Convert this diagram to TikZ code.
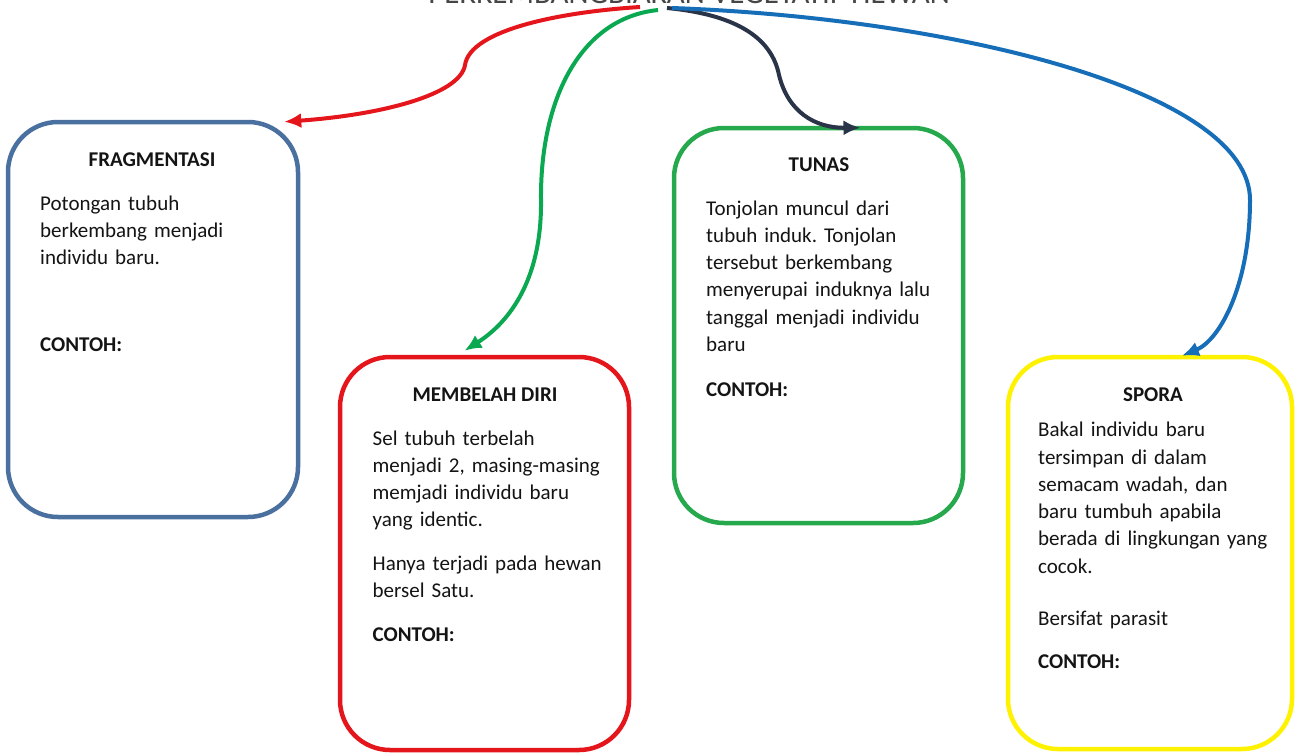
\documentclass[tikz,border=0pt]{standalone}
\usepackage{fontspec}
\setmainfont{Carlito}
\usetikzlibrary{arrows.meta,calc}
\frenchspacing
\definecolor{cfrag}{RGB}{74,112,160}
\definecolor{cred}{RGB}{228,22,28}
\definecolor{cgreenbox}{RGB}{38,168,76}
\definecolor{cgreen}{RGB}{10,168,80}
\definecolor{cnavy}{RGB}{42,52,72}
\definecolor{cblue}{RGB}{22,110,185}
\definecolor{cyellow}{RGB}{255,242,0}
\definecolor{ctext}{RGB}{20,20,20}
\definecolor{ctitle}{RGB}{70,70,70}
\tikzset{
  card/.style={draw, line width=4.5pt, rounded corners=50pt, fill=white, inner sep=0pt},
  cardtitle/.style={anchor=base, inner sep=0pt, text=ctext, font=\fontsize{21}{27.3}\selectfont\bfseries},
  body/.style={anchor=base west, inner sep=0pt, text=ctext, align=left, text width=250pt, font=\fontsize{21}{27.3}\selectfont},
  contoh/.style={anchor=base west, inner sep=0pt, text=ctext, font=\fontsize{21}{27.3}\selectfont\bfseries},
  conn/.style={line width=4pt, -{Latex[length=17pt,width=15pt]}},
}
\begin{document}
\begin{tikzpicture}[x=1pt,y=-1pt]
\useasboundingbox[fill=white] (0,0) rectangle (1296,753);

% title (cut off at the top edge, as in the reference)
\node[anchor=base, inner sep=0pt, text=ctitle, font=\fontsize{31}{36}\selectfont] (title) at (689,3.5) {PERKEMBANGBIAKAN VEGETATIF HEWAN};

% cards
\node[card, draw=cfrag, minimum width=290pt, minimum height=395pt] (frag) at (153,319.5) {};
\node[card, draw=cred, minimum width=289pt, minimum height=393pt] (memb) at (484.5,553.5) {};
\node[card, draw=cgreenbox, minimum width=289pt, minimum height=395pt] (tunas) at (818.5,325.5) {};
\node[card, draw=cyellow, minimum width=284pt, minimum height=392pt] (spora) at (1150,553) {};

% Fragmentasi
\node[cardtitle] (fragT) at (152,166.5) {FRAGMENTASI};
\node[body] (fragB) at (40,210) {Potongan tubuh\\berkembang menjadi\\individu baru.};
\node[contoh] (fragC) at (40,351.5) {CONTOH:};

% Membelah diri
\node[cardtitle] (membT) at (485,401.5) {MEMBELAH DIRI};
\node[body] (membB) at (372.5,445) {Sel tubuh terbelah\\menjadi 2, masing-masing\\memjadi individu baru\\yang identic.};
\node[body] (membB2) at (372.5,570) {Hanya terjadi pada hewan\\bersel Satu.};
\node[contoh] (membC) at (372.5,641.5) {CONTOH:};

% Tunas
\node[cardtitle] (tunasT) at (819,171.5) {TUNAS};
\node[body] (tunasB) at (706,215) {Tonjolan muncul dari\\tubuh induk. Tonjolan\\tersebut berkembang\\menyerupai induknya lalu\\tanggal menjadi individu\\baru};
\node[contoh] (tunasC) at (706,396) {CONTOH:};

% Spora
\node[cardtitle] (sporaT) at (1153,401.5) {SPORA};
\node[body] (sporaB) at (1038,436.7) {Bakal individu baru\\tersimpan di dalam\\semacam wadah, dan\\baru tumbuh apabila\\berada di lingkungan yang\\cocok.};
\node[body] (sporaB2) at (1038,625) {Bersifat parasit};
\node[contoh] (sporaC) at (1038,668) {CONTOH:};

% connector end points
\coordinate (rs) at ($(title.base)+(-49,3.5)$);
\coordinate (gs) at ($(title.base)+(-31,6.5)$);
\coordinate (ns) at ($(title.base)+(-22,4.5)$);
\coordinate (bs) at ($(title.base)+(-17,4.5)$);
\coordinate (re) at ($(frag.north east)+(-16,2)$);
\coordinate (ge) at ($(memb.north)+(-20,-4)$);
\coordinate (ne) at ($(tunas.north)+(42,2)$);
\coordinate (be) at ($(spora.north)+(32,1)$);

% connectors
\draw[conn, cred] (rs) .. controls (560,12) and (470,30) .. (465,65)
  .. controls (460,95) and (380,115) .. (re);
\draw[conn, cgreen] (gs) .. controls (580,18) and (540,100) .. (541,200)
  .. controls (542,285) and (505,325) .. (ge);
\draw[conn, cnavy] (ns) .. controls (740,15) and (772,40) .. (779,75)
  .. controls (788,112) and (815,128) .. (ne);
\draw[conn, cblue] (bs) .. controls (950,18) and (1250,90) .. (1250,200)
  .. controls (1250,285) and (1220,340) .. (be);
\end{tikzpicture}
\end{document}
